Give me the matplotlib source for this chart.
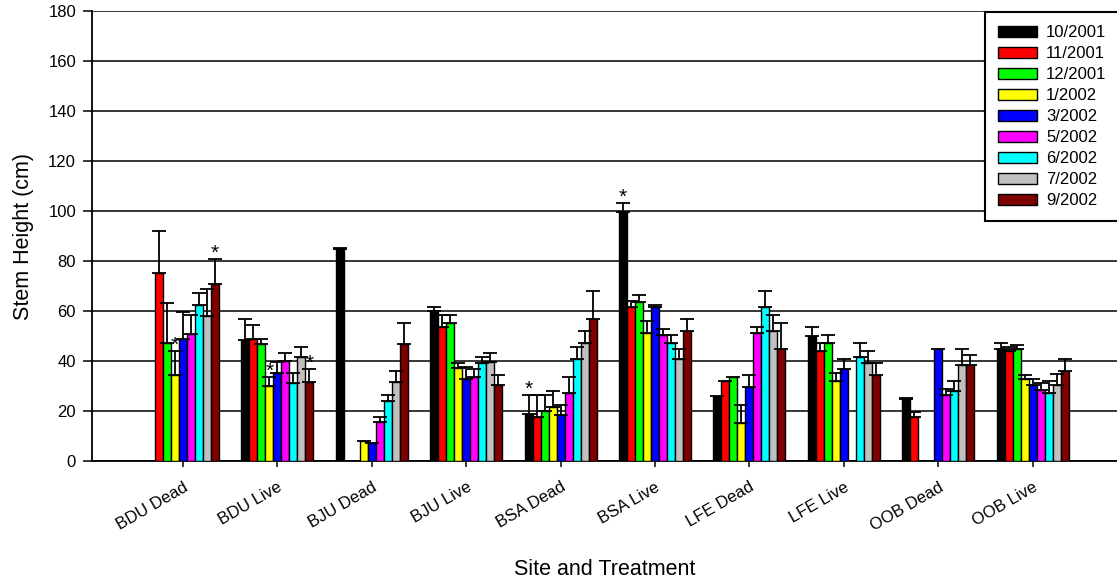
import numpy as np
import matplotlib
matplotlib.use('Agg')
import matplotlib.pyplot as plt
import matplotlib.transforms as mtransforms

plt.rcParams['font.family'] = ['Liberation Sans', 'DejaVu Sans']

nan = np.nan
sites = ['BDU Dead', 'BDU Live', 'BJU Dead', 'BJU Live', 'BSA Dead',
         'BSA Live', 'LFE Dead', 'LFE Live', 'OOB Dead', 'OOB Live']
dates = ['10/2001', '11/2001', '12/2001', '1/2002', '3/2002',
         '5/2002', '6/2002', '7/2002', '9/2002']
colors = ['#000000', '#ff0000', '#00ff00', '#ffff00', '#0000ff',
          '#ff00ff', '#00ffff', '#c0c0c0', '#800000']

# mean stem heights (cm), one list per sampling date
h_oct01 = [nan, 48.3, 84.8, 60.1, 18.7, 99.7, 25.9, 50.0, 24.8, 44.9]
h_nov01 = [75.3, 48.8, nan, 53.7, 17.5, 61.6, 32.1, 44.1, 17.7, 43.9]
h_dec01 = [47.2, 46.7, nan, 55.3, 19.9, 63.7, 33.7, 47.3, nan, 44.8]
h_jan02 = [34.4, 30.1, 8.1, 37.1, 21.6, 51.3, 15.1, 32.1, nan, 32.7]
h_mar02 = [48.9, 35.3, 7.1, 32.9, 18.4, 61.7, 29.7, 36.9, 44.8, 30.4]
h_may02 = [50.7, 39.9, 15.5, 33.7, 27.3, 50.5, 51.3, nan, 26.4, 28.3]
h_jun02 = [62.5, 31.3, 24.1, 39.3, 40.8, 47.3, 61.7, 41.7, 28.0, 27.1]
h_jul02 = [57.9, 41.7, 31.5, 39.5, 47.3, 40.9, 52.1, 39.3, 38.4, 30.4]
h_sep02 = [70.7, 31.5, 46.7, 30.5, 56.9, 52.1, 44.9, 34.5, 38.4, 36.1]

# upper error (SE)
e_oct01 = [nan, 8.6, 0.3, 1.6, 7.7, 3.6, nan, 3.7, 0.3, 2.3]
e_nov01 = [16.7, 5.6, nan, 4.8, 8.9, 2.5, nan, 3.2, 1.8, 1.8]
e_dec01 = [16.1, 2.1, nan, 3.2, 6.5, 2.8, nan, 3.2, nan, 1.7]
e_jan02 = [9.7, 3.6, nan, 2.2, 6.4, 4.8, 7.4, 3.2, nan, 1.8]
e_mar02 = [10.6, 4.2, nan, 4.6, 4.0, 0.8, 4.8, 3.9, nan, 2.5]
e_may02 = [7.8, 3.3, 2.2, 3.2, 6.4, 2.4, 2.4, nan, 2.4, 3.0]
e_jun02 = [4.8, 4.0, 2.3, 2.4, 4.9, 3.2, 6.4, 5.6, 4.0, 4.9]
e_jul02 = [11.0, 4.0, 4.5, 3.8, 4.8, 4.0, 6.4, 4.8, 6.4, 4.3]
e_sep02 = [10.2, 5.4, 8.6, 4.0, 11.2, 4.8, 10.4, 4.8, 4.1, 4.6]

heights = [h_oct01, h_nov01, h_dec01, h_jan02, h_mar02, h_may02, h_jun02, h_jul02, h_sep02]
errors = [e_oct01, e_nov01, e_dec01, e_jan02, e_mar02, e_may02, e_jun02, e_jul02, e_sep02]

# significance stars: (site index, date index)
stars = [(0, 3), (0, 8), (1, 3), (1, 8), (4, 0), (5, 0)]

fig = plt.figure(figsize=(11.17, 5.83), dpi=100)
ax = fig.add_axes([92 / 1117, 1 - 461 / 583, 1 - 92 / 1117, 450 / 583])

x = np.arange(len(sites))
w = 0.0847
for i, (h, e, c, d) in enumerate(zip(heights, errors, colors, dates)):
    xs = x + (i - 4) * w
    ax.bar(xs, h, width=w, color=c, edgecolor='black', linewidth=1.0, label=d, zorder=3)
    err = np.array([np.zeros(len(e)), e])
    ax.errorbar(xs, h, yerr=err, fmt='none', ecolor='black', elinewidth=1.3,
                capsize=4.7, capthick=1.3, zorder=4)

for s, dd in stars:
    top = heights[dd][s] + (errors[dd][s] if not np.isnan(errors[dd][s]) else 0)
    ax.text(x[s] + (dd - 4) * w, top - 1.5, '*', ha='center', va='bottom',
            fontsize=15, zorder=5)

ax.set_xlim(-0.964, 9.894)
ax.set_ylim(0, 180)
ax.set_yticks(np.arange(0, 181, 20))
ax.yaxis.grid(True, color='black', linewidth=1.1)
ax.set_axisbelow(True)
ax.set_xticks(x)
ax.set_xticklabels(sites, rotation=30, ha='right', rotation_mode='anchor', fontsize=12)
shift = mtransforms.ScaledTranslation(-5 / 100, 0, fig.dpi_scale_trans)
for lbl in ax.get_xticklabels():
    lbl.set_transform(lbl.get_transform() + shift)
ax.tick_params(axis='y', labelsize=12, length=6.5, width=1.1, pad=5, colors='black')
ax.tick_params(axis='x', length=4.3, width=1.1, pad=9)
for sp in ['top', 'right']:
    ax.spines[sp].set_visible(False)
for sp in ['left', 'bottom']:
    ax.spines[sp].set_linewidth(1.3)

ax.set_ylabel('Stem Height (cm)', fontsize=15.5)
ax.yaxis.set_label_coords((34 - 92) / 1025, 0.5)
ax.set_xlabel('Site and Treatment', fontsize=15.5)
ax.xaxis.set_label_coords(0.5, -0.218)

leg = ax.legend(loc='upper left', bbox_to_anchor=(985 / 1117, 1 - 12 / 583),
                bbox_transform=fig.transFigure, borderaxespad=0, fancybox=False,
                edgecolor='black', fontsize=12, handlelength=2.33, handleheight=0.62,
                handletextpad=0.55, labelspacing=0.36, borderpad=0.78, framealpha=1)
leg.get_frame().set_linewidth(1.5)

fig.savefig('out.png', dpi=100)
